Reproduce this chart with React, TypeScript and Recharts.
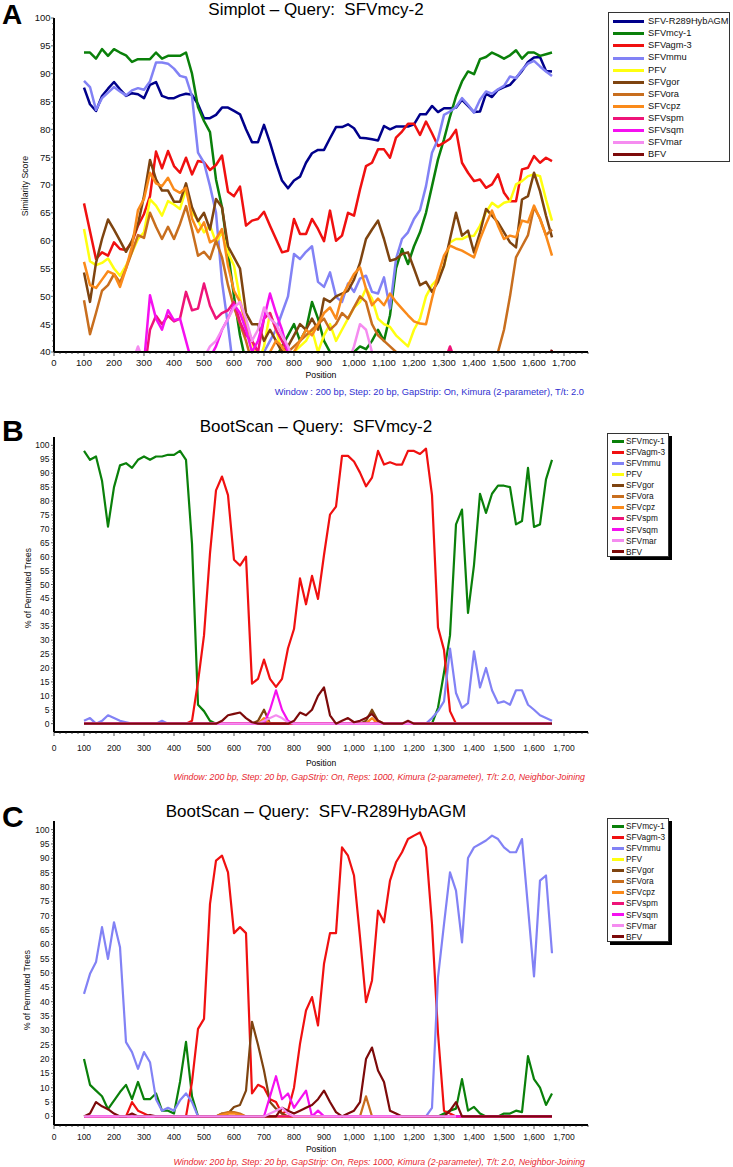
import React from "react";
import { LineChart, Line, XAxis, YAxis } from "recharts";

const FONT = '"Liberation Sans", Arial, Helvetica, sans-serif';

// sequence positions (window centres), step 20 bp
const positions = [
  100, 120, 140, 160, 180, 200, 220, 240, 260, 280,
  300, 320, 340, 360, 380, 400, 420, 440, 460, 480,
  500, 520, 540, 560, 580, 600, 620, 640, 660, 680,
  700, 720, 740, 760, 780, 800, 820, 840, 860, 880,
  900, 920, 940, 960, 980, 1000, 1020, 1040, 1060, 1080,
  1100, 1120, 1140, 1160, 1180, 1200, 1220, 1240, 1260, 1280,
  1300, 1320, 1340, 1360, 1380, 1400, 1420, 1440, 1460, 1480,
  1500, 1520, 1540, 1560, 1580, 1600, 1620, 1640, 1660,
];

const xMajor = [0, 100, 200, 300, 400, 500, 600, 700, 800, 900, 1000, 1100, 1200, 1300, 1400, 1500, 1600, 1700];
const xTicks = Array.from({ length: 90 }, (_, i) => i * 20);
const simTicks = Array.from({ length: 61 }, (_, i) => 40 + i);
const bootTicks = Array.from({ length: 101 }, (_, i) => i);

const colors = {
  hyb: "#00008B",
  mcy1: "#0A800A",
  agm3: "#F01010",
  mmu: "#8282F5",
  pfv: "#FFFF10",
  gor: "#7E4410",
  ora: "#C86E1E",
  cpz: "#FA8A1A",
  spm: "#EE1478",
  sqm: "#F510F0",
  mar: "#F58CF0",
  bfv: "#7D0A0A",
};

// ---------- Panel A: Simplot, query SFVmcy-2 ----------
const simHyb = [
  87.5, 84.5, 83.3, 86, 87.3, 88.5, 87.2, 86, 86.5, 86.3,
  85.6, 88, 88.5, 86, 85.6, 85.6, 86.1, 86.4, 86.2, 84.5,
  82, 82, 82.6, 83.9, 83.9, 83.3, 82.7, 80, 77.7, 77.7,
  80.8, 77.6, 74, 70.8, 69.4, 70.8, 71.5, 74, 75.7, 76.3,
  76.3, 78.4, 80.4, 80.4, 80.9, 80.2, 78.5, 78.4, 78.2, 78,
  80.6, 80, 80.5, 80.5, 80.5, 80.9, 82.7, 82.7, 84.2, 83.1,
  83.8, 83.8, 83.9, 85.3, 84.2, 83.1, 83.2, 86.4, 85.8, 87.1,
  87.6, 88, 89.2, 90.5, 92.1, 92.9, 93, 90.5, 90.4,
];
const simMcy1 = [
  93.8, 93.8, 92.7, 94.4, 93.2, 94.4, 93.8, 93.3, 92.1, 92.6,
  92.6, 92.6, 93.8, 92.7, 93.2, 93.2, 93.2, 93.8, 90, 84,
  81.5, 79.5, 71, 66, 58, 50, 43, 38, 36, 36,
  37, 38, 39, 41, 43, 45, 42, 44, 49, 46,
  42, 40, 39, 38, 39, 40, 41, 40.5, 42, 44,
  42, 46.6, 55, 58.5, 55.8, 59, 61.5, 65, 69.8, 74.6,
  78.2, 82.3, 85.9, 88.6, 90.4, 89.9, 92.6, 93, 93.8, 93.3,
  92.7, 93.3, 94.2, 92.7, 93.8, 93.8, 93.2, 93.5, 93.8,
];
const simAgm3 = [
  66.7, 61.7, 56.7, 57.9, 57.3, 59.7, 58.5, 58.3, 59.7, 62.7,
  64.8, 68, 76, 73, 76.1, 73.4, 72.2, 74.9, 71.9, 74.3,
  74.1, 72.7, 73.6, 75.3, 68.8, 68, 69.7, 62.7, 63.6, 63.9,
  65.2, 62.7, 60.3, 57.9, 58.2, 63.9, 61.2, 61.2, 63.9, 62.1,
  59.9, 65.4, 60, 60.9, 65, 64.5, 69.2, 73.4, 74, 76.4,
  76.4, 74.9, 78.5, 79.6, 81, 81, 79, 81.4, 79.3, 77,
  77.6, 78.3, 79.9, 74, 72.2, 70.7, 71, 69.5, 70.1, 71.9,
  68.6, 67.1, 67.1, 72.8, 73.1, 75.2, 74, 74.9, 74.3,
];
const simMmu = [
  88.7, 87.6, 83.5, 85.6, 86.6, 87.6, 86.8, 86.1, 87, 87.4,
  87.1, 88.6, 92, 92, 91.8, 90.9, 89.6, 89.3, 85.9, 75.8,
  74, 69.8, 65, 52.6, 44.8, 36, 32, 30, 30, 32,
  40, 42, 44, 47, 50, 57.6, 56.7, 58, 59, 52.6,
  51.7, 54.3, 49.9, 49, 52.3, 50.8, 53.2, 53.7, 50.8, 50.5,
  53.4, 47.8, 56.7, 60.3, 61.5, 63.9, 65.5, 69.8, 75.8, 78.2,
  82.6, 83.2, 84, 85.6, 84.4, 83, 85.3, 86.8, 86.4, 87.2,
  87.8, 89.5, 89.2, 90.7, 91.8, 92.3, 91.3, 90.4, 89.6,
];
const simPfv = [
  62.1, 56.3, 55.6, 56, 56.8, 55, 53.7, 55.5, 57.9, 60.3,
  61.5, 67.4, 66.3, 64.5, 67.1, 66.5, 65.7, 69.2, 65.1, 63.6,
  61.5, 62.7, 59.7, 61.5, 57.9, 55.5, 49.6, 44.8, 42, 38,
  41, 47, 44, 40, 38, 40, 41, 42, 44, 40,
  43, 45, 42, 44, 46, 48, 49, 51.4, 49.6, 46,
  45, 44.5, 43, 42, 41, 44, 46, 50, 52, 53.2,
  55.5, 59.7, 60.3, 60.3, 60.8, 60.9, 62.7, 65.1, 66.8, 66,
  66.8, 67.1, 70.1, 70.7, 71.6, 71.9, 71.6, 67.4, 63.6,
];
const simGor = [
  54.3, 49, 56, 60.3, 63.8, 62, 60, 58, 60, 63,
  68, 74.5, 71, 69, 69, 67, 67, 70.3, 66, 63.5,
  65, 62, 67.5, 66, 59, 57, 55, 47, 45, 45,
  42, 44, 42, 40, 41, 43, 45, 44, 46, 44,
  49.6, 49, 50, 50.5, 51, 53, 56, 60.3, 62, 63.6,
  60.3, 56.4, 56.7, 57.6, 57.9, 55, 52, 52.6, 50.8, 52.6,
  55.5, 60.3, 65, 60.9, 61.8, 57.9, 61.5, 65.7, 64.5, 63.3,
  61.5, 59.7, 58.8, 67.4, 68, 72.2, 68.9, 64.5, 60.6,
];
const simOra = [
  49.3, 43.2, 47, 51, 52, 54, 52.5, 55, 58, 61,
  60.5, 65, 62.5, 60.3, 62.5, 60.3, 63, 66.2, 62, 57.3,
  58, 56.7, 60, 57, 52, 48, 45, 42, 38, 36,
  36, 37, 38, 39, 40, 41, 42, 43, 44, 45,
  46, 44, 45, 47, 46, 48, 50, 49, 45, 43,
  42, 41, 40, 39, 38, 37, 36, 35, 34, 35,
  36, 37, 38, 38, 38, 37, 36, 38, 37, 40,
  44, 50, 57, 59, 61, 66, 64, 61, 62,
];
const simCpz = [
  56.2, 52, 51.5, 53, 54.5, 54, 51.7, 55, 59, 65.5,
  67.5, 72.2, 70.3, 69.8, 71.3, 69.2, 68.6, 69.5, 64, 61.5,
  63.3, 59.7, 60.3, 62.1, 55.5, 51, 49, 45, 42, 40,
  38, 40, 42, 41, 39, 40, 42, 44, 43, 45,
  47, 48, 46, 50, 52, 54, 55.2, 51.4, 48.4, 49.6,
  48.4, 50.5, 49, 47.8, 46.6, 45.5, 45.1, 45, 49.6, 53.8,
  57.3, 59.1, 58.6, 58.2, 57.6, 57, 60.3, 63, 65.4, 62.7,
  60.3, 60.9, 60.6, 63.6, 63.3, 66.3, 63.9, 60.9, 57.3,
];
const simSpm = [
  35, 35, 35, 35, 35, 35, 35, 35, 35, 35,
  36, 44, 46.5, 45, 46.5, 45.5, 46, 50.8, 47.5, 47.8,
  52.3, 48.3, 46, 47, 47.5, 49, 45.4, 43, 42, 40,
  46, 47, 44, 42, 40, 38, 37, 38, 36, 35,
  35, 35, 35, 35, 35, 35, 35, 38, 36, 35,
  35, 35, 35, 35, 35, 35, 35, 35, 35, 35,
  38, 41, 38, 35, 35, 35, 35, 35, 35, 35,
  35, 35, 35, 35, 35, 35, 35, 35, 35,
];
const simSqm = [
  35, 35, 35, 35, 35, 35, 35, 35, 35, 35,
  38, 50.2, 46, 44, 47.5, 45.7, 46, 42, 38, 37,
  37, 39, 41, 44, 46, 48.5, 47, 44, 40, 42,
  46, 50.5, 47, 44, 40, 38, 36, 36, 35, 35,
  35, 35, 35, 35, 35, 35, 35, 35, 35, 35,
  35, 35, 35, 35, 35, 35, 35, 35, 35, 35,
  35, 35, 35, 35, 35, 35, 35, 35, 35, 35,
  35, 35, 35, 35, 35, 35, 35, 35, 35,
];
const simMar = [
  35, 35, 35, 35, 35, 35, 35, 35, 38, 41,
  38, 36, 35, 35, 35, 35, 35, 35, 38, 40,
  39, 41, 42, 44, 46, 48, 49, 46, 42, 44,
  48, 46, 45, 43, 41, 38, 36, 35, 35, 35,
  35, 35, 35, 36, 38, 41, 45, 44, 40, 38,
  35, 35, 35, 35, 35, 35, 35, 35, 35, 35,
  35, 35, 35, 35, 35, 35, 35, 35, 35, 35,
  35, 35, 35, 35, 35, 35, 35, 35, 35,
];
const simBfv = [
  36, 36, 36, 36, 36, 36, 36, 36, 36, 36,
  36, 36, 36, 36, 36, 36, 36, 36, 36, 36,
  36, 36, 36, 36, 36, 36, 36, 36, 36, 36,
  36, 36, 36, 36, 36, 36, 36, 36, 36, 36,
  36, 36, 36, 36, 36, 36, 36, 36, 36, 36,
  36, 36, 36, 36, 36, 36, 36, 36, 36, 36,
  36, 36, 36, 36, 36, 36, 36, 36, 36, 36,
  36, 36, 36, 36, 36, 36, 36, 38, 40.4,
];

// ---------- Panel B: BootScan, query SFVmcy-2 ----------
const bsMcy1 = [
  98, 94.8, 96, 87.3, 70.8, 85, 92.8, 93.6, 91.9, 94.8,
  96, 94.8, 96, 96, 96.6, 96.6, 98, 94.8, 64.7, 6.8,
  4.5, 1, 0, 0, 0, 0, 0, 0, 0, 0,
  0, 0, 0, 0, 0, 0, 0, 0, 0, 0,
  0, 0, 0, 0, 0, 0, 0, 0, 0, 0,
  0, 0, 0, 0, 0, 0, 0, 0, 0, 5.7,
  18.4, 31.7, 71.6, 76.9, 39.8, 57, 82.6, 75.7, 82.6, 85.5,
  85.5, 85, 71.6, 72.8, 91.9, 70.7, 71.6, 87.8, 94.8,
];
const bsAgm3 = [
  0, 0, 0, 0, 0, 0, 0, 0, 0, 0,
  0, 0, 0, 0, 0, 0, 0, 0, 1, 15,
  31.7, 61.2, 83.8, 88.8, 82.1, 58.9, 56.8, 60, 14.4, 16.1,
  23, 16.1, 13.2, 16.1, 27.1, 34, 52.2, 42.9, 53.1, 44.8,
  60.6, 75.1, 78, 96.2, 96.2, 94.2, 90.2, 85.3, 88.4, 98,
  93.1, 93.9, 93.1, 93.1, 98, 98, 96.9, 98.8, 82.1, 34.6,
  26.5, 4.5, 0, 0, 0, 0, 0, 0, 0, 0,
  0, 0, 0, 0, 0, 0, 0, 0, 0,
];
const bsMmu = [
  1, 2, 0, 1, 3, 2, 1, 0.5, 0, 0,
  0, 0, 0, 1, 0, 0, 0, 0, 0, 0,
  0, 0, 0, 0, 0, 0, 0, 0, 0, 0,
  0, 0, 0, 0, 0, 0, 0, 0, 0, 0,
  0, 0, 0, 0, 0, 0, 0, 0, 0, 0,
  0, 0, 0, 0, 0, 0, 0, 0, 2, 4.5,
  8, 27, 11, 5.7, 7.4, 26, 13, 20, 12, 7.4,
  8, 6.8, 12, 12, 6.8, 5, 3, 2, 1,
];
const bsPfv = [
  0, 0, 0, 0, 0, 0, 0, 0, 0, 0,
  0, 0, 0, 0, 0, 0, 0, 0, 0, 0,
  0, 0, 0, 0, 0, 0, 0, 0, 0, 0,
  0, 0, 0, 0, 0, 0, 0, 0, 0, 0,
  0, 0, 0, 0, 0, 0, 0, 0, 0, 0,
  0, 0, 0, 0, 0, 0, 0, 0, 0, 0,
  0, 0, 0, 0, 0, 0, 0, 0, 0, 0,
  0, 0, 0, 0, 0, 0, 0, 0, 0,
];
const bsGor = [
  0, 0, 0, 0, 0, 0, 0, 0, 0, 0,
  0, 0, 0, 0, 0, 0, 0, 0, 0, 0,
  0, 0, 0, 0, 0, 0, 0, 0, 0, 1,
  5, 0, 0, 0, 0, 0, 0, 0, 0, 0,
  0, 0, 0, 0, 0, 0, 0, 1, 5, 1,
  0, 0, 0, 0, 0, 0, 0, 0, 0, 0,
  0, 0, 0, 0, 0, 0, 0, 0, 0, 0,
  0, 0, 0, 0, 0, 0, 0, 0, 0,
];
const bsOra = [
  0, 0, 0, 0, 0, 0, 0, 0, 0, 0,
  0, 0, 0, 0, 0, 0, 0, 0, 0, 0,
  0, 0, 0, 0, 0, 0, 0, 0, 0, 0,
  0, 0, 0, 0, 0, 0, 0, 0, 0, 0,
  0, 0, 0, 0, 0, 0, 0, 0, 0, 1,
  0, 0, 0, 0, 0, 0, 0, 0, 0, 0,
  0, 0, 0, 0, 0, 0, 0, 0, 0, 0,
  0, 0, 0, 0, 0, 0, 0, 0, 0,
];
const bsCpz = [
  0, 0, 0, 0, 0, 0, 0, 0, 0, 0,
  0, 0, 0, 0, 0, 0, 0, 0, 0, 0,
  0, 0, 0, 0, 0, 0, 0, 0, 0, 0,
  2, 0, 0, 0, 0, 0, 0, 0, 0, 0,
  0, 0, 0, 0, 0, 0, 0, 0, 2, 0,
  0, 0, 0, 0, 0, 0, 0, 0, 0, 0,
  0, 0, 0, 0, 0, 0, 0, 0, 0, 0,
  0, 0, 0, 0, 0, 0, 0, 0, 0,
];
const bsSpm = bsPfv;
const bsSqm = [
  0, 0, 0, 0, 0, 0, 0, 0, 0, 0,
  0, 0, 0, 0, 0, 0, 0, 0, 0, 0,
  0, 0, 0, 0, 0, 0, 0, 0, 0, 0,
  0, 5, 12, 5, 1, 0, 0, 0, 0, 0,
  0, 0, 0, 0, 0, 0, 0, 0, 0, 0,
  0, 0, 0, 0, 0, 0, 0, 0, 0, 0,
  0, 0, 0, 0, 0, 0, 0, 0, 0, 0,
  0, 0, 0, 0, 0, 0, 0, 0, 0,
];
const bsMar = [
  0, 0, 0, 0, 0, 0, 0, 0, 0, 0,
  0, 0, 0, 0, 0, 0, 0, 0, 0, 0,
  0, 0, 0, 0, 0, 0, 0, 0, 0, 0,
  1, 2, 3, 2, 0.5, 0, 0, 0, 0, 0,
  0, 0, 0, 0, 0, 0, 0, 0, 0, 0,
  0, 0, 0, 0, 0, 0, 0, 0, 0, 0,
  0, 0, 0, 0, 0, 0, 0, 0, 0, 0,
  0, 0, 0, 0, 0, 0, 0, 0, 0,
];
const bsBfv = [
  0, 0, 0, 0, 0, 0, 0, 0, 0, 0,
  0, 0, 0, 0, 0, 0, 0, 0, 0, 0,
  0, 0, 0, 1, 3, 3.5, 4, 2, 0.5, 0,
  0, 0, 0, 0, 0, 1, 4, 3, 5, 10,
  13, 3, 0, 1, 2, 0.5, 1, 2, 3.5, 1,
  0, 0, 0, 0, 1, 0, 0, 0, 0, 0,
  0, 0, 0, 0, 0, 0, 0, 0, 0, 0,
  0, 0, 0, 0, 0, 0, 0, 0, 0,
];

// ---------- Panel C: BootScan, query SFV-R289HybAGM ----------
const btMcy1 = [
  20, 11, 9, 7, 2.5, 5.5, 8.5, 11, 6, 12,
  6, 6, 8, 2, 2, 1, 12, 26, 7, 0,
  0, 0, 0, 0, 0, 0, 0, 0, 0, 0,
  0, 0, 0, 0, 0, 0, 0, 0, 0, 0,
  0, 0, 0, 0, 0, 0, 0, 0, 0, 0,
  0, 0, 0, 0, 0, 0, 0, 0, 0, 0,
  1, 2, 2.7, 13, 2, 3.3, 1, 0, 0, 0,
  1, 1, 2, 1.5, 21, 13, 10, 4, 8,
];
const btAgm3 = [
  0, 0, 0, 0, 0, 0, 0, 0, 5, 2,
  1, 0, 0, 0, 0, 0, 0, 0, 12, 30.5,
  34, 74.1, 89.2, 90.9, 85.1, 63.9, 66, 63.9, 8, 11,
  10, 6, 5, 1, 2, 10, 25.3, 36.9, 41.6, 31.7,
  53.2, 63.9, 63.9, 93.8, 90.9, 84, 62.5, 39.8, 47.4, 71.8,
  67.7, 82.2, 88.6, 92.1, 96.7, 97.9, 99, 93.8, 67, 29,
  2, 1, 0, 0, 0, 0, 0, 0, 0, 0,
  0, 0, 0, 0, 0, 0, 0, 0, 0,
];
const btMmu = [
  42.7, 49.7, 53.8, 66, 54.9, 67.7, 59, 25.9, 22.4, 16.6,
  22.4, 18.9, 6, 2, 3, 2, 5.6, 8, 5, 0,
  0, 0, 0, 0, 0, 0, 0, 0, 0, 0,
  0, 0, 0, 0, 0, 0, 0, 0, 0, 0,
  0, 0, 0, 0, 0, 0, 0, 0, 0, 0,
  0, 0, 0, 0, 0, 0, 0, 0, 3, 48.5,
  67, 85.1, 78.7, 60.7, 90.1, 93.8, 95, 96.2, 97.9, 96.7,
  93.8, 92.1, 92.1, 96.7, 72.9, 48.8, 82.2, 84, 56.9,
];
const btPfv = bsPfv;
const btGor = [
  0, 0, 0, 0, 0, 0, 0, 0, 0, 0,
  0, 0, 0, 0, 0, 0, 0, 0, 0, 0,
  0, 0, 0, 1, 1, 3.3, 4, 9, 33, 25,
  16, 5, 2.7, 1, 0, 0, 0, 0, 0, 0,
  0, 0, 0, 0, 0, 0, 0, 0, 0, 0,
  0, 0, 0, 0, 0, 0, 0, 0, 0, 0,
  0, 0, 0, 0, 0, 0, 0, 0, 0, 0,
  0, 0, 0, 0, 0, 0, 0, 0, 0,
];
const btOra = [
  0, 0, 0, 0, 0, 0, 0, 0, 0, 0,
  0, 0, 0, 0, 0, 0, 0, 0, 0, 0,
  0, 0, 0, 1, 1.5, 1.5, 1, 0, 0, 0,
  0, 0, 0, 0, 0, 0, 0, 0, 0, 0,
  0, 0, 0, 0, 0, 0, 0, 7, 0, 0,
  0, 0, 0, 0, 0, 0, 0, 0, 0, 0,
  0, 0, 0, 0, 0, 0, 0, 0, 0, 0,
  0, 0, 0, 0, 0, 0, 0, 0, 0,
];
const btCpz = [
  0, 0, 0, 0, 0, 0, 0, 0, 0, 0,
  0, 0, 0, 0, 0, 0, 0, 0, 0, 0,
  0, 0, 0, 0.5, 1, 1, 0.5, 0, 0, 0,
  0, 0, 0, 0, 0, 0, 0, 0, 0, 0,
  0, 0, 0, 0, 0, 0, 0, 0, 0, 0,
  0, 0, 0, 0, 0, 0, 0, 0, 0, 0,
  0, 0, 0, 0, 0, 0, 0, 0, 0, 0,
  0, 0, 0, 0, 0, 0, 0, 0, 0,
];
const btSpm = bsPfv;
const btSqm = [
  0, 0, 0, 0, 0, 0, 0, 0, 0, 0,
  0, 0, 0, 0, 0, 0, 0, 0, 0, 0,
  0, 0, 0, 0, 0, 0, 0, 0, 0, 0,
  0, 7, 14, 6, 8, 3, 6, 9, 0, 2,
  0, 0, 0, 0, 0, 0, 0, 0, 0, 0,
  0, 0, 0, 0, 0, 0, 0, 0, 0, 0,
  0, 0, 0, 0, 0, 0, 0, 0, 0, 0,
  0, 0, 0, 0, 0, 0, 0, 0, 0,
];
const btMar = [
  0, 0, 0, 0, 0, 0, 0, 0, 0, 0,
  0, 0, 0, 0, 0, 0, 0, 0, 0, 0,
  0, 0, 0, 0, 0, 0, 0, 0, 0, 0,
  0, 1, 2, 3, 1, 0, 0, 0, 0, 0,
  0, 0, 0, 0, 0, 0, 0, 0, 0, 0,
  0, 0, 0, 0, 0, 0, 0, 0, 0, 0,
  0, 0, 0, null, null, null, null, null, null, null,
  null, null, null, null, null, null, null, null, null,
];
const btBfv = [
  0, 1, 5, 3.5, 2.5, 1, 0, 0, 1, 0,
  0, 0.5, 0, 0, 0, 0, 0, 0, 0, 0,
  0, 0, 0, 0, 0, 0, 0, 0, 0, 0,
  0, 0, 0, 3, 2, 1, 2, 3, 4, 6,
  9, 5, 1.5, 0, 1, 2, 5, 20, 24, 16,
  12, 2, 1, 0, 0, 0, 0, 0, 0, 0,
  0, 2, 5, 0, 0, 0, 0, 0, 0, 0,
  0, 0, 0, 0, 0, 0, 0, 0, 0,
];

type Series = { name: string; color: string; values: (number | null)[] };

const simSeries: Series[] = [
  { name: "SFV-R289HybAGM", color: colors.hyb, values: simHyb },
  { name: "SFVmcy-1", color: colors.mcy1, values: simMcy1 },
  { name: "SFVagm-3", color: colors.agm3, values: simAgm3 },
  { name: "SFVmmu", color: colors.mmu, values: simMmu },
  { name: "PFV", color: colors.pfv, values: simPfv },
  { name: "SFVgor", color: colors.gor, values: simGor },
  { name: "SFVora", color: colors.ora, values: simOra },
  { name: "SFVcpz", color: colors.cpz, values: simCpz },
  { name: "SFVspm", color: colors.spm, values: simSpm },
  { name: "SFVsqm", color: colors.sqm, values: simSqm },
  { name: "SFVmar", color: colors.mar, values: simMar },
  { name: "BFV", color: colors.bfv, values: simBfv },
];

const bootBSeries: Series[] = [
  { name: "SFVmcy-1", color: colors.mcy1, values: bsMcy1 },
  { name: "SFVagm-3", color: colors.agm3, values: bsAgm3 },
  { name: "SFVmmu", color: colors.mmu, values: bsMmu },
  { name: "PFV", color: colors.pfv, values: bsPfv },
  { name: "SFVgor", color: colors.gor, values: bsGor },
  { name: "SFVora", color: colors.ora, values: bsOra },
  { name: "SFVcpz", color: colors.cpz, values: bsCpz },
  { name: "SFVspm", color: colors.spm, values: bsSpm },
  { name: "SFVsqm", color: colors.sqm, values: bsSqm },
  { name: "SFVmar", color: colors.mar, values: bsMar },
  { name: "BFV", color: colors.bfv, values: bsBfv },
];

const bootCSeries: Series[] = [
  { name: "SFVmcy-1", color: colors.mcy1, values: btMcy1 },
  { name: "SFVagm-3", color: colors.agm3, values: btAgm3 },
  { name: "SFVmmu", color: colors.mmu, values: btMmu },
  { name: "PFV", color: colors.pfv, values: btPfv },
  { name: "SFVgor", color: colors.gor, values: btGor },
  { name: "SFVora", color: colors.ora, values: btOra },
  { name: "SFVcpz", color: colors.cpz, values: btCpz },
  { name: "SFVspm", color: colors.spm, values: btSpm },
  { name: "SFVsqm", color: colors.sqm, values: btSqm },
  { name: "SFVmar", color: colors.mar, values: btMar },
  { name: "BFV", color: colors.bfv, values: btBfv },
];
// in panel C the SFVmar baseline sits on top of BFV
const bootCDrawOrder = [...bootCSeries.slice(0, 9), bootCSeries[10], bootCSeries[9]];

const footerSim = "Window : 200 bp, Step: 20 bp, GapStrip: On, Kimura (2-parameter), T/t: 2.0";
const footerBoot =
  "Window: 200 bp, Step: 20 bp, GapStrip: On, Reps: 1000, Kimura (2-parameter), T/t: 2.0, Neighbor-Joining";

const renderXTick = (fontSize: number, gap: number) => (props: any) => {
  const { x, y, payload } = props;
  const v = payload.value as number;
  const major = xMajor.includes(v);
  return (
    <g>
      <line x1={x} x2={x} y1={y} y2={y + (major ? 4 : 2)} stroke="#222" strokeWidth={0.8} />
      {major && (
        <text x={x} y={y + gap} dy="0.71em" textAnchor="middle" fontSize={fontSize} fontFamily={FONT} fill="#111">
          {v.toLocaleString("en-US")}
        </text>
      )}
    </g>
  );
};

const renderYTick = (fontSize: number, gap: number) => (props: any) => {
  const { x, y, payload } = props;
  const v = payload.value as number;
  const major = v % 5 === 0;
  return (
    <g>
      <line x1={x} x2={x - (major ? 3 : 1.8)} y1={y} y2={y} stroke="#222" strokeWidth={0.7} />
      {major && (
        <text x={x - gap} y={y} dy="0.36em" textAnchor="end" fontSize={fontSize} fontFamily={FONT} fill="#111">
          {v}
        </text>
      )}
    </g>
  );
};

function Panel(props: {
  top: number;
  height: number;
  mTop: number;
  mBottom: number;
  series: Series[];
  yDomain: [number, number];
  yTicks: number[];
  stroke: number;
  tickFont: number;
  xGap: number;
  yGap: number;
  clip: boolean;
}) {
  const { top, height, mTop, mBottom, series, yDomain, yTicks, stroke, tickFont, xGap, yGap, clip } = props;
  const rows = positions.map((p, i) => {
    const r: Record<string, number | null> = { pos: p };
    series.forEach((s) => {
      r[s.name] = s.values[i];
    });
    return r;
  });
  return (
    <div style={{ position: "absolute", left: 0, top, width: 733, height }}>
      <LineChart width={733} height={height} data={rows} margin={{ top: mTop, right: 145, bottom: mBottom, left: 14 }}>
        <XAxis
          xAxisId="x"
          dataKey="pos"
          type="number"
          domain={[0, 1780]}
          ticks={xTicks}
          interval={0}
          tickSize={0}
          tickMargin={0}
          tickLine={false}
          tick={renderXTick(tickFont, xGap)}
          axisLine={{ stroke: "#000", strokeWidth: 2 }}
          height={20}
          allowDataOverflow
        />
        <XAxis
          xAxisId="top"
          orientation="top"
          dataKey="pos"
          type="number"
          domain={[0, 1780]}
          height={0}
          tick={false}
          tickLine={false}
          axisLine={{ stroke: "#6e6e6e", strokeWidth: 1.2 }}
        />
        <YAxis
          yAxisId="y"
          type="number"
          domain={yDomain}
          ticks={yTicks}
          interval={0}
          tickSize={0}
          tickMargin={0}
          tickLine={false}
          tick={renderYTick(tickFont, yGap)}
          width={40}
          axisLine={{ stroke: "#000", strokeWidth: 2 }}
          allowDataOverflow={clip}
        />
        <YAxis
          yAxisId="right"
          orientation="right"
          type="number"
          domain={yDomain}
          width={0}
          tick={false}
          tickLine={false}
          axisLine={{ stroke: "#6e6e6e", strokeWidth: 1.2 }}
        />
        {series.map((s) => (
          <Line
            key={s.name}
            xAxisId="x"
            yAxisId="y"
            dataKey={s.name}
            type="linear"
            stroke={s.color}
            strokeWidth={stroke}
            strokeLinejoin="round"
            dot={false}
            activeDot={false}
            isAnimationActive={false}
            connectNulls={false}
          />
        ))}
      </LineChart>
    </div>
  );
}

function Txt(props: {
  x: number;
  y: number;
  size: number;
  anchor?: "start" | "middle" | "end";
  color?: string;
  bold?: boolean;
  italic?: boolean;
  children: React.ReactNode;
}) {
  const { x, y, size, anchor = "start", color = "#000", bold = false, italic = false, children } = props;
  const W = 700;
  const left = anchor === "start" ? x : anchor === "middle" ? x - W / 2 : x - W;
  return (
    <div
      style={{
        position: "absolute",
        left,
        top: y - 0.8465 * size,
        width: W,
        textAlign: anchor === "start" ? "left" : anchor === "middle" ? "center" : "right",
        fontSize: size,
        lineHeight: `${size}px`,
        color,
        fontWeight: bold ? "bold" : "normal",
        fontStyle: italic ? "italic" : "normal",
        whiteSpace: "pre",
        fontFamily: FONT,
      }}
    >
      {children}
    </div>
  );
}

function VTxt(props: { cx: number; cy: number; size: number; children: React.ReactNode }) {
  const { cx, cy, size, children } = props;
  return (
    <div
      style={{
        position: "absolute",
        left: cx,
        top: cy,
        transform: "translate(-50%, -50%) rotate(-90deg)",
        whiteSpace: "nowrap",
        fontSize: size,
        lineHeight: `${size}px`,
        fontFamily: FONT,
        color: "#111",
      }}
    >
      {children}
    </div>
  );
}

function LegendBox(props: {
  x: number;
  y: number;
  w: number;
  h: number;
  items: Series[];
  rowH: number;
  firstY: number;
  swX: number;
  swLen: number;
  textX: number;
  size: number;
  shadow: boolean;
}) {
  const { x, y, w, h, items, rowH, firstY, swX, swLen, textX, size, shadow } = props;
  return (
    <div
      style={{
        position: "absolute",
        left: x,
        top: y,
        width: w,
        height: h,
        border: "1px solid #333",
        background: "#fff",
        boxShadow: shadow ? "3px 3px 0 #000" : "none",
        boxSizing: "border-box",
        fontFamily: FONT,
      }}
    >
      {items.map((it, i) => {
        const cy = firstY + i * rowH;
        return (
          <React.Fragment key={it.name}>
            <div style={{ position: "absolute", left: swX, top: cy - 1.5, width: swLen, height: 3, background: it.color }} />
            <div
              style={{
                position: "absolute",
                left: textX,
                top: cy - 0.4885 * size,
                fontSize: size,
                lineHeight: `${size}px`,
                whiteSpace: "nowrap",
                color: "#111",
              }}
            >
              {it.name}
            </div>
          </React.Fragment>
        );
      })}
    </div>
  );
}

export default function App() {
  return (
    <div
      style={{
        position: "absolute",
        left: 0,
        top: 0,
        width: 733,
        height: 1167,
        overflow: "hidden",
        background: "#fff",
        fontFamily: FONT,
      }}
    >
      {/* Panel A */}
      <Panel
        top={0}
        height={400}
        mTop={18}
        mBottom={28}
        series={simSeries}
        yDomain={[40, 100]}
        yTicks={simTicks}
        stroke={2.5}
        tickFont={9.5}
        xGap={7.5}
        yGap={3.5}
        clip
      />
      <Txt x={2} y={25} size={28} bold>A</Txt>
      <Txt x={316} y={15} size={17} anchor="middle">{"Simplot – Query:  SFVmcy-2"}</Txt>
      <VTxt cx={25} cy={186} size={8.7}>Similarity Score</VTxt>
      <Txt x={321} y={378} size={8.7} anchor="middle">Position</Txt>
      <Txt x={584} y={395.7} size={9.3} anchor="end" color="#3030D0">{footerSim}</Txt>
      <LegendBox x={608} y={12} w={122} h={150} items={simSeries} rowH={12.1} firstY={8.7} swX={4} swLen={31} textX={39} size={9.3} shadow={false} />

      {/* Panel B */}
      <Panel
        top={400}
        height={390}
        mTop={37}
        mBottom={38}
        series={bootBSeries}
        yDomain={[-3, 103]}
        yTicks={bootTicks}
        stroke={2.2}
        tickFont={8.5}
        xGap={13}
        yGap={4.5}
        clip={false}
      />
      <Txt x={2} y={441.5} size={30} bold>B</Txt>
      <Txt x={316} y={432.7} size={17} anchor="middle">{"BootScan – Query:  SFVmcy-2"}</Txt>
      <VTxt cx={28} cy={588} size={8.5}>% of Permuted Trees</VTxt>
      <Txt x={321} y={766} size={8.5} anchor="middle">Position</Txt>
      <Txt x={585} y={780} size={8.8} anchor="end" color="#E8262E" italic>{footerBoot}</Txt>
      <LegendBox x={607} y={433} w={62} h={124} items={bootBSeries} rowH={11.07} firstY={7} swX={4} swLen={12} textX={18} size={8.3} shadow />

      {/* Panel C */}
      <Panel
        top={790}
        height={377}
        mTop={31}
        mBottom={22}
        series={bootCDrawOrder}
        yDomain={[-3, 103]}
        yTicks={bootTicks}
        stroke={2.2}
        tickFont={8.5}
        xGap={8.5}
        yGap={4.5}
        clip={false}
      />
      <Txt x={2} y={827} size={30} bold>C</Txt>
      <Txt x={316} y={817.7} size={17} anchor="middle">{"BootScan – Query:  SFV-R289HybAGM"}</Txt>
      <VTxt cx={27} cy={990} size={8.5}>% of Permuted Trees</VTxt>
      <Txt x={321} y={1152} size={8.5} anchor="middle">Position</Txt>
      <Txt x={585} y={1165} size={8.8} anchor="end" color="#E8262E" italic>{footerBoot}</Txt>
      <LegendBox x={607} y={818} w={62} h={124} items={bootCSeries} rowH={11.07} firstY={7} swX={4} swLen={12} textX={18} size={8.3} shadow />
    </div>
  );
}
